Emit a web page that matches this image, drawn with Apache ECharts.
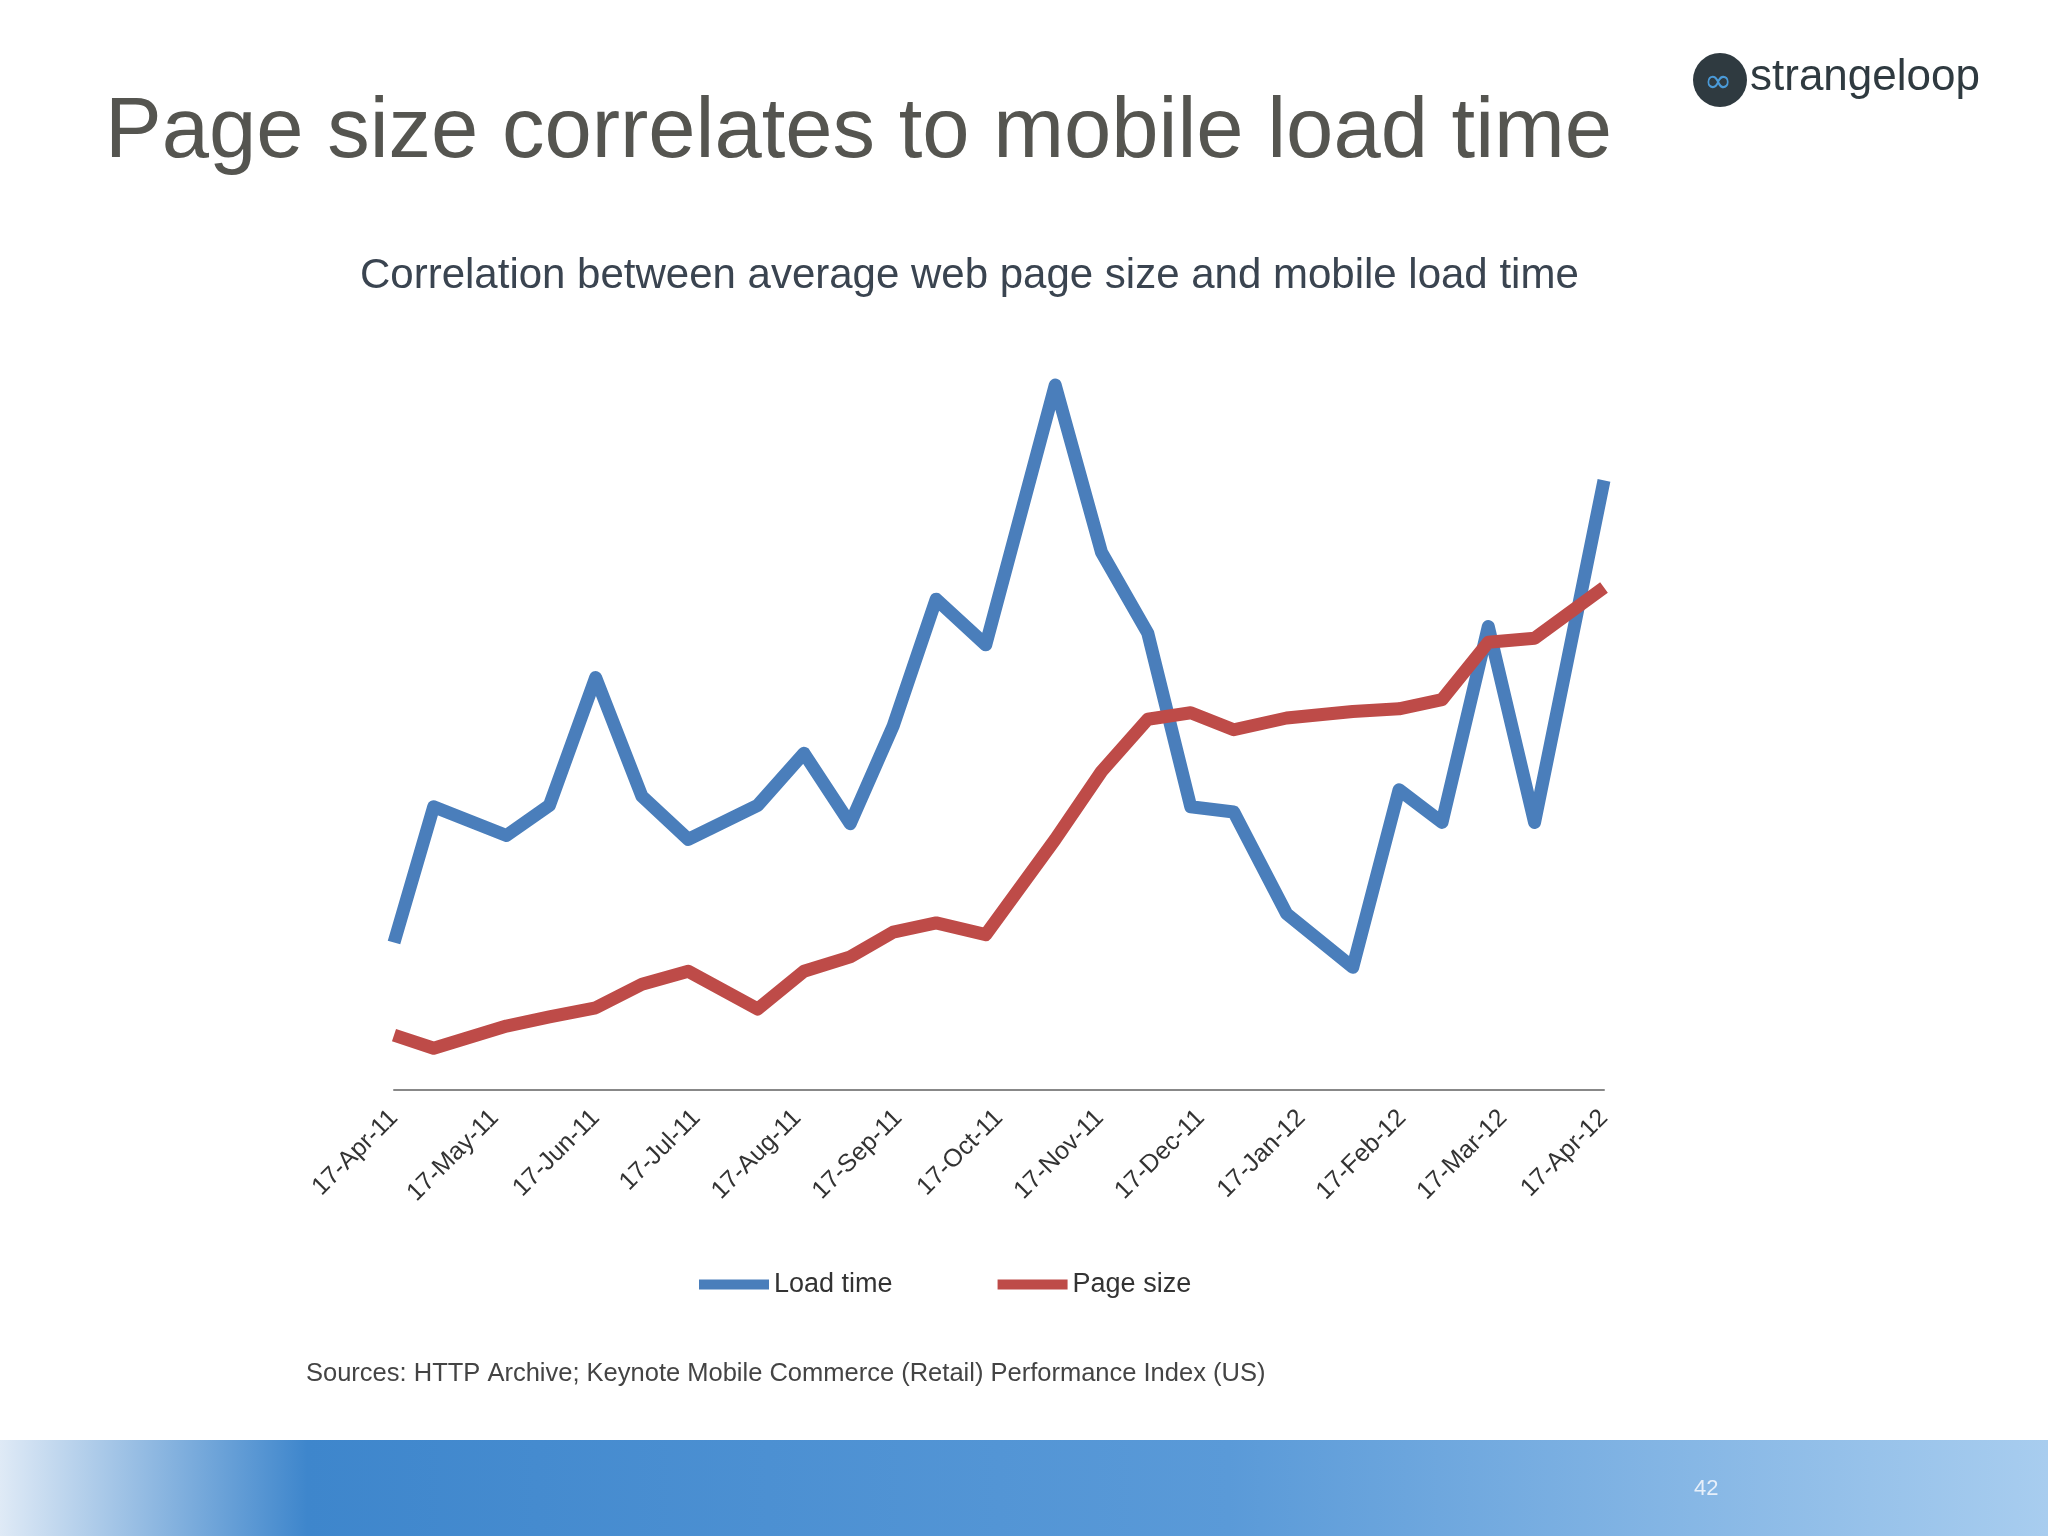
<!DOCTYPE html>
<html>
<head>
<meta charset="utf-8">
<style>html,body{margin:0;padding:0;background:#fff;}#chart{width:2048px;height:1536px;}</style>
<script src="https://cdn.jsdelivr.net/npm/echarts@6/dist/echarts.min.js"></script>
</head>
<body>
<div id="chart"></div>
<script>
// days since 17-Apr-11 for each sample
var days = [0,12,34,47,61,75,89,110,124,138,151,164,179,200,214,228,241,254,270,290,304,317,331,345,366];
var loadTime = [113,217,195,218,316,225,192,218,258,204,279,376,341,540,412,350,217,213,135,94,230,205,355,205,467];
var pageSize = [42,32,49,56,63,81,91,62,91,102,121,128,119,192,244,284,289,276,285,290,292,299,343,346,385];
var monthLabels = ['17-Apr-11','17-May-11','17-Jun-11','17-Jul-11','17-Aug-11','17-Sep-11','17-Oct-11','17-Nov-11','17-Dec-11','17-Jan-12','17-Feb-12','17-Mar-12','17-Apr-12'];

function pairs(vals){
	return vals.map(function(v,i){ return [days[i], v]; });
}

var chart = echarts.init(document.getElementById('chart'));
var option = {
	backgroundColor: '#fff',
	animation: false,
	title: [
		{text: 'Page size correlates to mobile load time', left: 100, top: 86,
		 textStyle: {fontFamily: 'Arial, Liberation Sans', fontSize: 85, fontWeight: 'normal', color: '#555550'}},
		{text: 'Correlation between average web page size and mobile load time', left: 355, top: 250,
		 textStyle: {fontFamily: 'Arial, Liberation Sans', fontSize: 42, fontWeight: 'normal', color: '#3a4450'}},
		{text: 'Sources: HTTP Archive; Keynote Mobile Commerce (Retail) Performance Index (US)', left: 301, top: 1356,
		 textStyle: {fontFamily: 'Arial, Liberation Sans', fontSize: 25.5, fontWeight: 'normal', color: '#444'}}
	],
	legend: {
		top: 1266, left: 694, itemGap: 105, itemWidth: 70, itemHeight: 10,
		textStyle: {fontSize: 27, color: '#333', fontFamily: 'Arial, Liberation Sans'},
		data: [{name: 'Load time', icon: 'rect'}, {name: 'Page size', icon: 'rect'}]
	},
	grid: {left: 394, right: 444, top: 359, bottom: 446},
	xAxis: [
		{type: 'value', min: 0, max: 366, show: false},
		{type: 'category', data: monthLabels, boundaryGap: false, position: 'bottom',
		 axisLine: {lineStyle: {color: '#888', width: 2}}, axisTick: {show: false},
		 axisLabel: {rotate: 45, fontSize: 25, color: '#333', margin: 24, fontFamily: 'Arial, Liberation Sans'}}
	],
	yAxis: {type: 'value', min: 0, max: 560, show: false},
	series: [
		{name: 'Load time', type: 'line', data: pairs(loadTime), showSymbol: false,
		 lineStyle: {width: 13, color: '#4a7ebb', join: 'round'}, itemStyle: {color: '#4a7ebb'}},
		{name: 'Page size', type: 'line', data: pairs(pageSize), showSymbol: false,
		 lineStyle: {width: 13, color: '#be4b48', join: 'round'}, itemStyle: {color: '#be4b48'}}
	],
	graphic: [
		{type: 'rect', shape: {x: 0, y: 1440, width: 2048, height: 96},
		 style: {fill: new echarts.graphic.LinearGradient(0, 0, 1, 0, [
			{offset: 0, color: '#dfeaf6'}, {offset: 0.15, color: '#3e86cc'}, {offset: 0.6, color: '#5a9ad8'}, {offset: 1, color: '#a8cdef'}])}},
		{type: 'text', left: 1694, top: 1478, style: {text: '42', fill: '#e8f0fa', fontSize: 22, fontFamily: 'Arial'}},
		{type: 'circle', shape: {cx: 1720, cy: 80, r: 27}, style: {fill: '#2f3a40'}},
		{type: 'text', left: 1704, top: 66, style: {text: '∞', fill: '#4a9ad8', fontSize: 34, fontFamily: 'DejaVu Sans'}},
		{type: 'text', left: 1750, top: 56, style: {text: 'strangeloop', fill: '#2f3a40', fontSize: 44, fontFamily: 'Arial, Liberation Sans'}}
	]
};
chart.setOption(option);
</script>
</body>
</html>
